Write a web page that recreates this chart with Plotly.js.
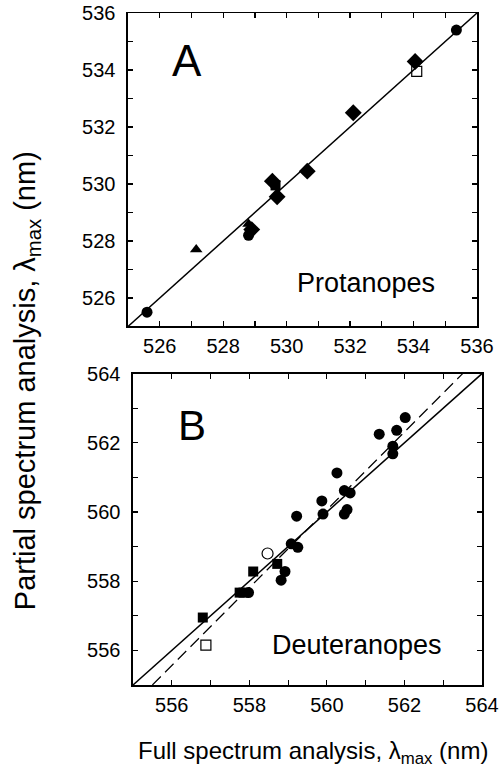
<!DOCTYPE html>
<html>
<head>
<meta charset="utf-8">
<script src="https://cdn.plot.ly/plotly-3.0.1.min.js"></script>
<style>html,body{margin:0;padding:0;background:#fff;}</style>
</head>
<body>
<div id="chart" style="width:500px;height:770px;"></div>
<script>
// ---- Panel A: Protanopes ----
const protCircleX = [525.6, 528.8, 535.35];
const protCircleY = [525.5, 528.2, 535.4];
const protTriX = [527.15, 528.8];
const protTriY = [527.7, 528.6];
const protDiamX = [528.9, 529.55, 529.7, 530.65, 532.1, 534.05];
const protDiamY = [528.4, 530.1, 529.55, 530.45, 532.5, 534.3];
const protSqX = [529.65];
const protSqY = [529.95];
const protOpenSqX = [534.1];
const protOpenSqY = [533.95];
const protLineX = [525, 536];
const protLineY = [525, 536];
const protTicks = [526, 528, 530, 532, 534, 536];

// ---- Panel B: Deuteranopes ----
const deutSqX = [556.8, 557.75, 557.85, 558.1, 558.72];
const deutSqY = [556.95, 557.67, 557.67, 558.28, 558.5];
const deutOpenSqX = [556.88];
const deutOpenSqY = [556.15];
const deutOpenCircX = [558.47];
const deutOpenCircY = [558.8];
const deutCircX = [557.98, 558.82, 558.92, 559.08, 559.25, 559.22, 559.9, 559.87, 560.26, 560.45, 560.52, 560.45, 560.6, 561.35, 561.7, 561.7, 561.8, 562.02];
const deutCircY = [557.67, 558.03, 558.28, 559.08, 558.98, 559.88, 559.94, 560.32, 561.13, 559.94, 560.07, 560.62, 560.55, 562.25, 561.9, 561.68, 562.36, 562.73];
const deutLineX = [555, 564];
const deutLineY = [555, 564];
const deutDashX = [555.5, 563.5];
const deutDashY = [555, 564];
const deutTicks = [556, 558, 560, 562, 564];

const FONT = 'Liberation Sans, Arial, Helvetica, sans-serif';
const black = '#000';

function mk(x, y, xa, ya, symbol, size, lw) {
  return {x: x, y: y, xaxis: xa, yaxis: ya, type: 'scatter', mode: 'markers',
    marker: {symbol: symbol, size: size, color: black, line: {color: black, width: lw || 0}},
    showlegend: false, hoverinfo: 'skip', cliponaxis: false};
}

const traces = [
  {x: protLineX, y: protLineY, xaxis: 'x', yaxis: 'y', mode: 'lines', line: {color: black, width: 1.5}, showlegend: false},
  mk(protCircleX, protCircleY, 'x', 'y', 'circle', 11),
  mk(protTriX, protTriY, 'x', 'y', 'triangle-up', 11),
  mk(protDiamX, protDiamY, 'x', 'y', 'diamond', 13),
  mk(protSqX, protSqY, 'x', 'y', 'square', 10),
  mk(protOpenSqX, protOpenSqY, 'x', 'y', 'square-open', 10, 1.2),
  {x: deutLineX, y: deutLineY, xaxis: 'x2', yaxis: 'y2', mode: 'lines', line: {color: black, width: 1.5}, showlegend: false},
  {x: deutDashX, y: deutDashY, xaxis: 'x2', yaxis: 'y2', mode: 'lines', line: {color: black, width: 1.2, dash: '12px,6px'}, showlegend: false},
  mk(deutSqX, deutSqY, 'x2', 'y2', 'square', 10),
  mk(deutOpenSqX, deutOpenSqY, 'x2', 'y2', 'square-open', 10, 1.2),
  mk(deutOpenCircX, deutOpenCircY, 'x2', 'y2', 'circle-open', 11, 1.2),
  mk(deutCircX, deutCircY, 'x2', 'y2', 'circle', 11)
];

function ax(domain, range, ticks, anchor, standoff) {
  return {
    domain: domain, range: range, anchor: anchor,
    tickmode: 'array', tickvals: ticks, ticktext: ticks.map(String),
    ticks: 'inside', ticklen: 5, tickwidth: 1.2, tickcolor: black,
    minor: {dtick: 1, tick0: range[0], ticks: 'inside', ticklen: 5, tickwidth: 1.2, tickcolor: black},
    showline: true, linecolor: black, linewidth: 1.5, mirror: 'ticks',
    showgrid: false, zeroline: false,
    tickfont: {family: FONT, size: 20, color: black},
    ticklabelstandoff: standoff
  };
}

const layout = {
  width: 500, height: 770,
  margin: {l: 120, r: 10, t: 10, b: 60},
  paper_bgcolor: '#fff', plot_bgcolor: '#fff',
  showlegend: false,
  xaxis: ax([0.0216, 0.9649], [525, 536], protTicks, 'y', 1),
  yaxis: ax([0.5479, 0.9957], [525, 536], protTicks, 'x', 7),
  xaxis2: ax([0.0351, 0.9784], [555, 564], deutTicks, 'y2', 1),
  yaxis2: ax([0.0357, 0.4806], [555, 564], deutTicks, 'x2', 7),
  annotations: [
    {text: 'A', xref: 'x', yref: 'y', x: 526.86, y: 534.35, showarrow: false, font: {family: FONT, size: 44, color: black}},
    {text: 'Protanopes', xref: 'x', yref: 'y', x: 532.5, y: 526.53, showarrow: false, font: {family: FONT, size: 27, color: black}},
    {text: 'B', xref: 'x2', yref: 'y2', x: 556.52, y: 562.51, showarrow: false, font: {family: FONT, size: 42, color: black}},
    {text: 'Deuteranopes', xref: 'x2', yref: 'y2', x: 560.78, y: 556.16, showarrow: false, font: {family: FONT, size: 27, color: black}},
    {text: 'Full spectrum analysis, λ<sub>max</sub> (nm)', xref: 'paper', yref: 'paper', x: 0.5216, y: -0.086, showarrow: false, font: {family: FONT, size: 24, color: black}},
    {text: 'Partial spectrum analysis, λ<sub>max</sub> (nm)', xref: 'paper', yref: 'paper', x: -0.305, y: 0.47, textangle: -90, showarrow: false, font: {family: FONT, size: 29, color: black}}
  ]
};

Plotly.newPlot('chart', traces, layout, {staticPlot: true, displayModeBar: false});
</script>
</body>
</html>
